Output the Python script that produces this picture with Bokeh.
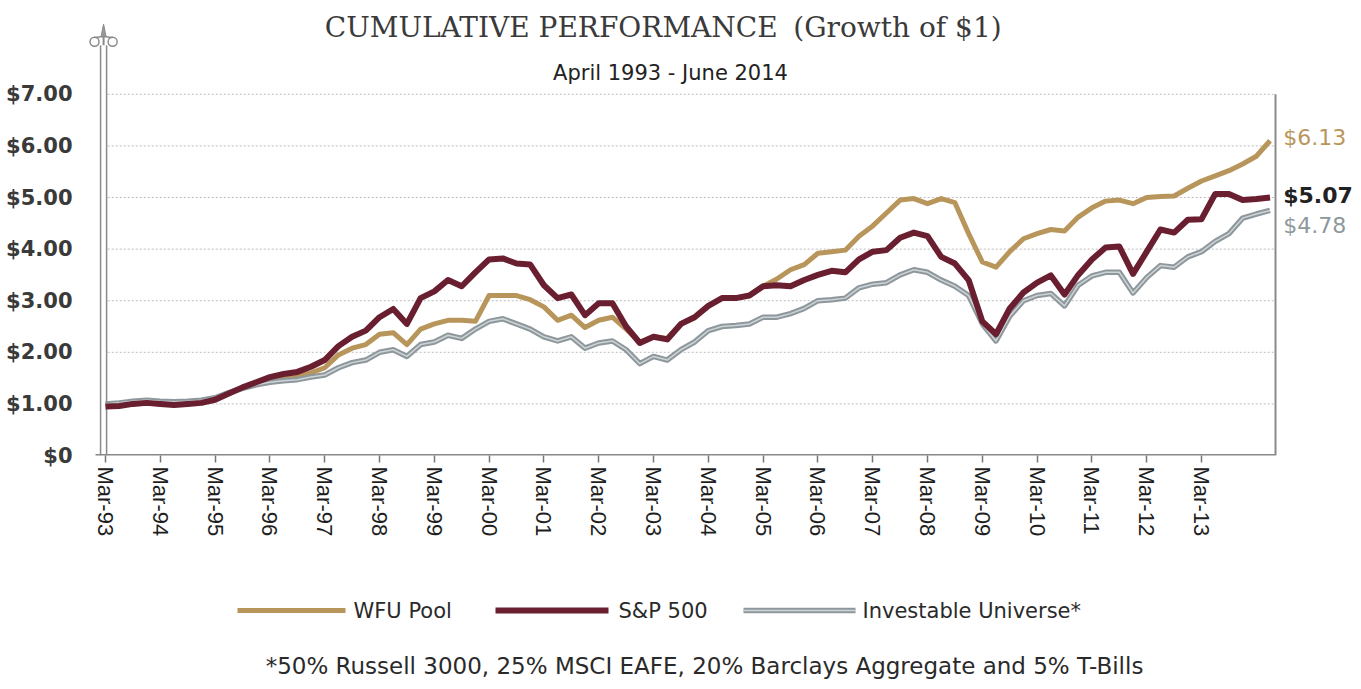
from bokeh.plotting import figure
from bokeh.layouts import column
from bokeh.models import Range1d, FixedTicker
from bokeh.core.properties import value
from bokeh.embed import file_html
from bokeh.resources import INLINE

# ---------------- data (quarterly, Mar-93 .. Jun-14) ----------------
series_names = ["WFU Pool", "S&P 500", "Investable Universe*"]

wfu_pool = [1.0, 1.0, 1.03, 1.05, 1.03, 1.02, 1.03, 1.05,
            1.1, 1.2, 1.3, 1.38, 1.46, 1.5, 1.54, 1.6,
            1.7, 1.95, 2.08, 2.15, 2.35, 2.38, 2.15, 2.45,
            2.55, 2.62, 2.62, 2.6, 3.1, 3.1, 3.1, 3.02,
            2.88, 2.62, 2.72, 2.48, 2.62, 2.68, 2.45, 2.2,
            2.3, 2.27, 2.55, 2.68, 2.9, 3.05, 3.05, 3.1,
            3.28, 3.42, 3.6, 3.7, 3.92, 3.95, 3.98, 4.25,
            4.45, 4.7, 4.95, 4.98, 4.88, 4.98, 4.9, 4.3,
            3.75, 3.65, 3.95, 4.2, 4.3, 4.38, 4.35, 4.62,
            4.8, 4.93, 4.95, 4.88, 5.0, 5.02, 5.03, 5.18,
            5.32, 5.42, 5.52, 5.65, 5.8, 6.1]

sp500 = [0.95, 0.96, 1.0, 1.02, 1.0, 0.98, 1.0, 1.02,
         1.08, 1.2, 1.32, 1.42, 1.52, 1.58, 1.62, 1.72,
         1.85, 2.12, 2.3, 2.42, 2.68, 2.84, 2.55, 3.05,
         3.18, 3.4, 3.28, 3.55, 3.8, 3.82, 3.72, 3.7,
         3.3, 3.05, 3.12, 2.72, 2.95, 2.95, 2.5, 2.18,
         2.3, 2.25, 2.55, 2.68, 2.9, 3.05, 3.05, 3.1,
         3.28, 3.3, 3.28, 3.4, 3.5, 3.58, 3.55, 3.8,
         3.95, 3.98, 4.22, 4.32, 4.25, 3.85, 3.72, 3.4,
         2.6, 2.35, 2.85, 3.16, 3.35, 3.49, 3.12, 3.5,
         3.8, 4.03, 4.05, 3.52, 3.95, 4.38, 4.32, 4.57,
         4.58, 5.07, 5.07, 4.95, 4.97, 5.0]

investable = [1.0, 1.02, 1.05, 1.07, 1.05, 1.04, 1.05, 1.07,
              1.12, 1.22, 1.3, 1.37, 1.42, 1.45, 1.47, 1.52,
              1.56, 1.7, 1.8, 1.85, 2.0, 2.05, 1.92, 2.15,
              2.2, 2.33, 2.27, 2.45, 2.6, 2.65, 2.55, 2.45,
              2.3, 2.22, 2.3, 2.08, 2.18, 2.22, 2.05, 1.78,
              1.92, 1.85, 2.05, 2.2, 2.42, 2.5, 2.52, 2.55,
              2.68, 2.68, 2.75, 2.85, 3.0, 3.02, 3.05, 3.25,
              3.32, 3.35, 3.5, 3.6, 3.55, 3.4, 3.28, 3.1,
              2.55, 2.22, 2.7, 3.0, 3.1, 3.14, 2.9, 3.3,
              3.48, 3.55, 3.55, 3.15, 3.45, 3.68, 3.65, 3.85,
              3.95, 4.15, 4.3, 4.6, 4.68, 4.75]

end_values = ["$6.13", "$5.07", "$4.78"]

tick_years = [1993, 1994, 1995, 1996, 1997, 1998, 1999, 2000, 2001, 2002,
              2003, 2004, 2005, 2006, 2007, 2008, 2009, 2010, 2011, 2012, 2013]
tick_labels = ["Mar-93", "Mar-94", "Mar-95", "Mar-96", "Mar-97", "Mar-98",
               "Mar-99", "Mar-00", "Mar-01", "Mar-02", "Mar-03", "Mar-04",
               "Mar-05", "Mar-06", "Mar-07", "Mar-08", "Mar-09", "Mar-10",
               "Mar-11", "Mar-12", "Mar-13"]
y_ticks = [0, 1, 2, 3, 4, 5, 6, 7]
y_labels = ["$0", "$1.00", "$2.00", "$3.00", "$4.00", "$5.00", "$6.00", "$7.00"]

title_main = "CUMULATIVE PERFORMANCE"
title_paren = "(Growth of $1)"
subtitle = "April 1993 - June 2014"
footnote = "*50% Russell 3000, 25% MSCI EAFE, 20% Barclays Aggregate and 5% T-Bills"

# quarter positions (years, Mar-93 = 1993.0)
t = [1993 + 0.25 * i for i in range(len(sp500))]

GOLD = "#B8965B"
MAROON = "#6A1F31"
GRAY = "#8E989C"
GRAY_IN = "#CDD3D6"
SANS = "DejaVu Sans"

# ---------------- main figure ----------------
W = 1353
LEFT = 86
p = figure(width=W, height=565, output_backend="svg", toolbar_location=None,
           x_range=Range1d(1992.6533, 2015.773), y_range=Range1d(0, 8.663),
           min_border_left=LEFT, min_border_right=0, min_border_top=8,
           min_border_bottom=110)
p.outline_line_color = None
p.background_fill_color = "white"
p.border_fill_color = "white"
p.xgrid.visible = False
p.ygrid.visible = False

# x axis
p.xaxis.ticker = FixedTicker(ticks=tick_years)
p.xaxis.major_label_overrides = {y: l for y, l in zip(tick_years, tick_labels)}
p.xaxis.major_label_orientation = "vertical"
p.xaxis.axis_line_color = None
p.xaxis.major_tick_in = 0
p.xaxis.major_tick_out = 7
p.xaxis.major_tick_line_color = "#777777"
p.xaxis.major_tick_line_width = 1.5
p.xaxis.minor_tick_line_color = None
p.xaxis.major_label_text_font = "Liberation Sans"
p.xaxis.major_label_text_font_size = "22px"
p.xaxis.major_label_text_color = "#1e1e1e"
p.xaxis.major_label_standoff = 4

# y axis
p.yaxis.ticker = FixedTicker(ticks=y_ticks)
p.yaxis.major_label_overrides = {v: l for v, l in zip(y_ticks, y_labels)}
p.yaxis.axis_line_color = None
p.yaxis.major_tick_line_color = None
p.yaxis.major_tick_out = 0
p.yaxis.major_tick_in = 0
p.yaxis.minor_tick_line_color = None
p.yaxis.major_label_text_font = SANS
p.yaxis.major_label_text_font_style = "bold"
p.yaxis.major_label_text_font_size = "21px"
p.yaxis.major_label_text_color = "#3a3a3a"
p.yaxis.major_label_standoff = 14

# dotted gridlines
grid_vals = y_ticks[1:]
p.segment(x0=[1993.04] * len(grid_vals), y0=grid_vals,
          x1=[2014.35] * len(grid_vals), y1=grid_vals,
          line_color="#BDBDBD", line_width=1, line_dash="2 2")

# axis frame lines
p.segment(x0=[1992.8175], y0=[0], x1=[2014.35], y1=[0], line_color="#888888", line_width=3)
p.segment(x0=[2014.35], y0=[0], x1=[2014.35], y1=[7.0], line_color="#8a8a8a", line_width=2)

# decorative pole on the left
p.segment(x0=[1992.91, 1993.02], y0=[0, 0], x1=[1992.91, 1993.02], y1=[7.95, 7.95],
          line_color="#8a8a8a", line_width=1.5)
p.segment(x0=[1992.965], y0=[7.95], x1=[1992.965], y1=[8.3], line_color="#8a8a8a", line_width=2)
p.patch(x=[1992.92, 1992.965, 1993.01], y=[8.12, 8.36, 8.12], fill_color="#9a9a9a", line_color="#8a8a8a")
p.scatter(x=[1992.8, 1993.13], y=[8.02, 8.02], marker="circle", size=9,
          fill_color=None, line_color="#8a8a8a", line_width=1.5)
p.segment(x0=[1992.8, 1993.13], y0=[8.1, 8.1], x1=[1992.965, 1992.965], y1=[8.12, 8.12],
          line_color="#8a8a8a", line_width=1.5)

# series lines
p.line(t, wfu_pool, line_color=GOLD, line_width=5, line_join="round")
p.line(t, investable, line_color=GRAY, line_width=5.5, line_join="round")
p.line(t, investable, line_color=GRAY_IN, line_width=1.5, line_join="round")
p.line(t, sp500, line_color=MAROON, line_width=6, line_join="round")

# titles
p.text(x=[1997.0], y=[8.295], text=[title_main], text_font=value("DejaVu Serif"),
       text_font_size="28px", text_color="#3a3a3a", text_align="left", text_baseline="middle")
p.text(x=[2005.55], y=[8.295], text=[title_paren], text_font=value("DejaVu Serif"),
       text_font_size="28px", text_color="#3a3a3a", text_align="left", text_baseline="middle")
p.text(x=[2003.31], y=[7.42], text=[subtitle], text_font=value(SANS),
       text_font_size="21px", text_color="#222222", text_align="center", text_baseline="middle")

# end labels
p.text(x=[2014.49], y=[6.163], text=[end_values[0]], text_font=value(SANS),
       text_font_size="22px", text_color=GOLD, text_baseline="middle")
p.text(x=[2014.49], y=[5.03], text=[end_values[1]], text_font=value(SANS), text_font_style="bold",
       text_font_size="22px", text_color="#222222", text_baseline="middle")
p.text(x=[2014.49], y=[4.457], text=[end_values[2]], text_font=value(SANS),
       text_font_size="22px", text_color="#8E989C", text_baseline="middle")

# ---------------- legend / footnote figure (x in page pixels) ----------------
q = figure(width=W, height=116, output_backend="svg", toolbar_location=None,
           x_range=Range1d(LEFT, W), y_range=Range1d(116, 0),
           x_axis_type=None, y_axis_type=None,
           min_border_left=LEFT, min_border_right=0, min_border_top=0, min_border_bottom=0)
q.outline_line_color = None
q.xgrid.visible = False
q.ygrid.visible = False

sw_x0 = [237, 495, 743]
sw_x1 = [345, 608, 855]
colors = [GOLD, MAROON, GRAY]
widths = [5, 6, 5.5]
for a, b, c, w in zip(sw_x0, sw_x1, colors, widths):
    q.segment(x0=[a], y0=[45], x1=[b], y1=[45], line_color=c, line_width=w)
q.segment(x0=[sw_x0[2]], y0=[45], x1=[sw_x1[2]], y1=[45], line_color=GRAY_IN, line_width=1.5)
q.text(x=[353, 618, 862], y=[45, 45, 45], text=series_names, text_font=value(SANS),
       text_font_size="21px", text_color="#2a2a2a", text_baseline="middle")
q.text(x=[704], y=[100], text=[footnote], text_font=value(SANS),
       text_font_size="23px", text_color="#2a2a2a", text_align="center", text_baseline="middle")

layout = column(p, q, spacing=0)
open("out.html", "w").write(file_html(layout, INLINE))
